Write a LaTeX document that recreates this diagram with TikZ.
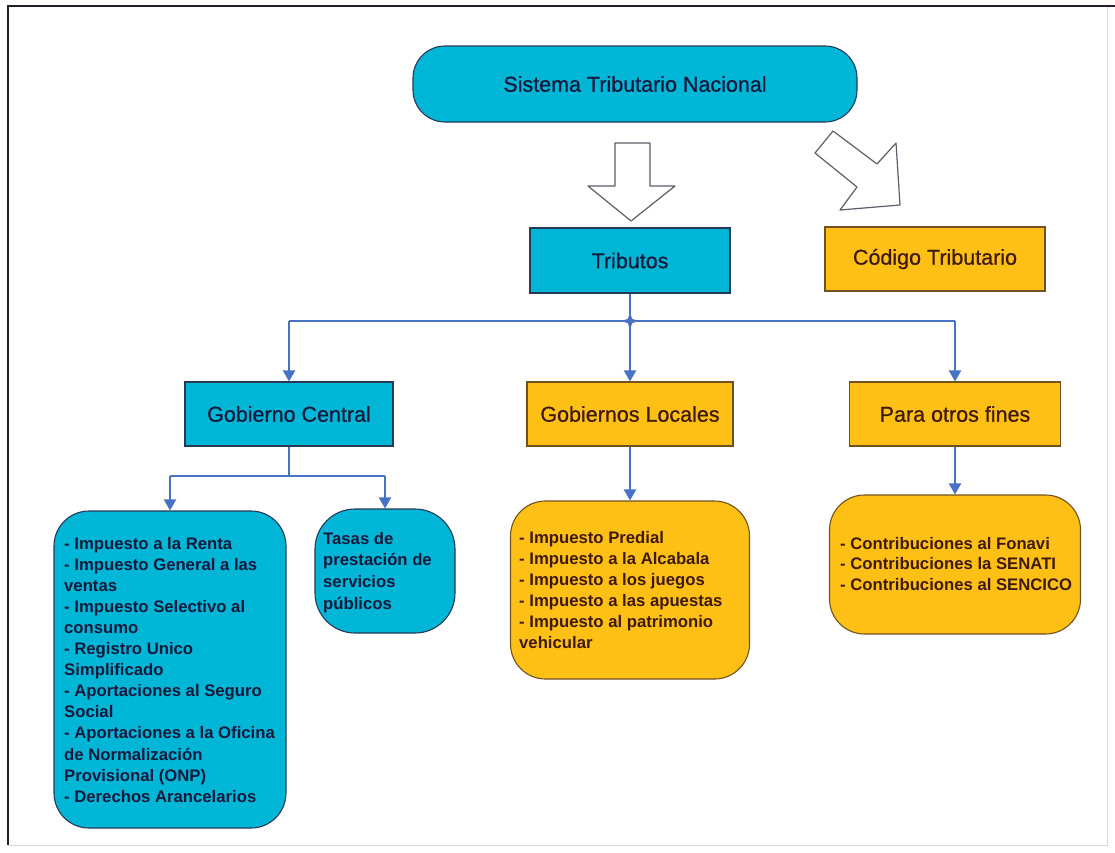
\documentclass[tikz,border=0pt]{standalone}
\usepackage{fontspec}
\setmainfont{Liberation Sans}
\newfontfamily\heavysans[FakeBold=0.7]{Liberation Sans}
\usetikzlibrary{arrows.meta,shapes.geometric}

\definecolor{cyanfill}{RGB}{0,182,214}
\definecolor{cyanedge}{RGB}{38,58,88}
\definecolor{goldfill}{RGB}{255,192,22}
\definecolor{goldedge}{RGB}{112,82,34}
\definecolor{navytext}{RGB}{22,24,60}
\definecolor{browntext}{RGB}{62,26,14}
\definecolor{linkblue}{RGB}{72,114,196}
\definecolor{outline}{RGB}{92,94,108}
\definecolor{framedark}{RGB}{40,30,42}
\definecolor{framelight}{RGB}{214,216,222}

\newcommand{\titlefont}{\heavysans\fontsize{21.5}{24}\selectfont}
\newcommand{\listfont}[1]{\fontsize{16.7}{#1}\selectfont\bfseries}

\tikzset{
  cyanbox/.style={draw=cyanedge, fill=cyanfill, line width=1.1pt, inner sep=0pt,
    text=navytext, font=\titlefont},
  goldbox/.style={draw=goldedge, fill=goldfill, line width=1.1pt, inner sep=0pt,
    text=browntext, font=\titlefont},
  listtext/.style={inner sep=0pt, anchor=base west},
  link/.style={draw=linkblue, line width=2.2pt},
  linkarrow/.style={link, -{Triangle[width=12pt,length=11pt]}},
  blockarrow/.style={draw=outline, fill=white, line width=1.2pt, line join=round}
}

\begin{document}
\begin{tikzpicture}[x=1pt,y=-1pt]
\useasboundingbox (0,0) rectangle (1115,852);
\fill[white] (0,0) rectangle (1115,852);

% page frame
\draw[framelight, line width=1pt] (1107,6) -- (1107,845) -- (8,845);
\draw[framedark, line width=2pt] (8,845) -- (8,6) -- (1115,6);

% top level
\node[cyanbox, rounded corners=32pt, minimum width=444pt, minimum height=76pt]
  (sistema) at (635,84) {Sistema Tributario Nacional};

% block arrows out of the top box
\draw[blockarrow] (615,143) -- (650,143) -- (650,186) -- (675,186) -- (631,221)
  -- (588,186) -- (615,186) -- cycle;
\draw[blockarrow] (833,131) -- (877,164) -- (896,143) -- (900,205) -- (840,210)
  -- (857,187) -- (815,153) -- cycle;

% second level
\node[cyanbox, minimum width=200pt, minimum height=65pt] (tributos) at (630,260.5) {Tributos};
\node[goldbox, minimum width=220pt, minimum height=64pt] (codigo) at (935,259) {Código Tributario};

% third level
\node[cyanbox, minimum width=208pt, minimum height=64pt] (central) at (289,414) {Gobierno Central};
\node[goldbox, minimum width=206pt, minimum height=64pt] (locales) at (630,414) {Gobiernos Locales};
\node[goldbox, minimum width=211pt, minimum height=64pt] (otros) at (955,414) {Para otros fines};

% distribution bus below Tributos
\coordinate (bus) at (630,321);
\coordinate (busL) at (289,321);
\coordinate (busR) at (955,321);
\draw[link] (tributos.south) -- (bus);
\draw[link] (busL) -- (busR);
\node[star, star points=4, star point ratio=3, fill=linkblue, inner sep=0pt,
  minimum size=18pt] (joint) at (bus) {};
\draw[linkarrow] (busL) -- (central.north);
\draw[linkarrow] (bus) -- (locales.north);
\draw[linkarrow] (busR) -- (otros.north);

% detail boxes
\node[cyanbox, rounded corners=35pt, minimum width=232pt, minimum height=317pt]
  (listcentral) at (170,669.5) {};
\node[cyanbox, rounded corners=40pt, minimum width=140pt, minimum height=124pt]
  (tasas) at (385,571) {};
\node[goldbox, rounded corners=35pt, minimum width=239pt, minimum height=178pt]
  (listlocales) at (630,590) {};
\node[goldbox, rounded corners=35pt, minimum width=251pt, minimum height=139pt]
  (listotros) at (955,564.5) {};

% branch below Gobierno Central
\coordinate (split) at (289,476);
\coordinate (splitL) at (170,476);
\coordinate (splitR) at (385,476);
\draw[link] (central.south) -- (split);
\draw[link] (splitL) -- (splitR);
\draw[linkarrow] (splitL) -- (listcentral.north);
\draw[linkarrow] (splitR) -- (tasas.north);
\draw[linkarrow] (locales.south) -- (listlocales.north);
\draw[linkarrow] (otros.south) -- (listotros.north);

% texts of the detail boxes
\node[listtext, text=navytext] (textcentral) at (64,549) {\parbox[t]{300pt}{\listfont{21.1}\raggedright
- Impuesto a la Renta\\
- Impuesto General a las\\
ventas\\
- Impuesto Selectivo al\\
consumo\\
- Registro Unico\\
Simplificado\\
- Aportaciones al Seguro\\
Social\\
- Aportaciones a la Oficina\\
de Normalización\\
Provisional (ONP)\\
- Derechos Arancelarios}};

\node[listtext, text=navytext] (texttasas) at (323,544) {\parbox[t]{200pt}{\listfont{21.7}\raggedright
Tasas de\\
prestación de\\
servicios\\
públicos}};

\node[listtext, text=browntext] (textlocales) at (519,543) {\parbox[t]{300pt}{\listfont{21}\raggedright
- Impuesto Predial\\
- Impuesto a la Alcabala\\
- Impuesto a los juegos\\
- Impuesto a las apuestas\\
- Impuesto al patrimonio\\
vehicular}};

\node[listtext, text=browntext] (textotros) at (840,549) {\parbox[t]{300pt}{\listfont{20.5}\raggedright
- Contribuciones al Fonavi\\
- Contribuciones la SENATI\\
- Contribuciones al SENCICO}};
\end{tikzpicture}
\end{document}
